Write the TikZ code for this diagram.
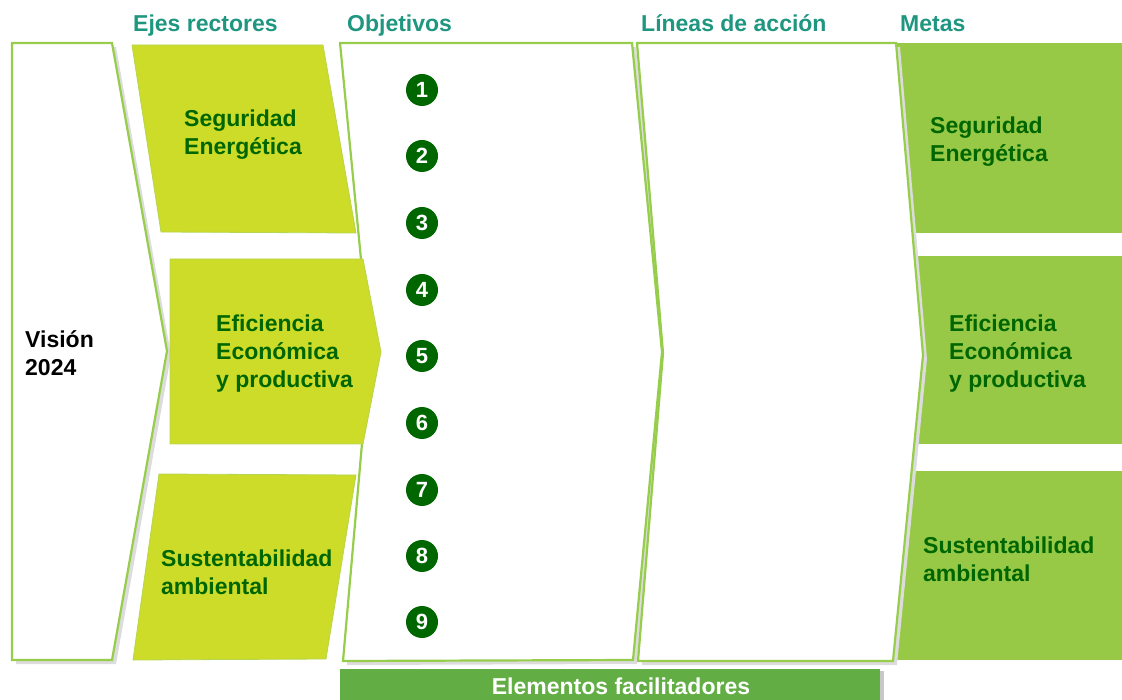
\documentclass[tikz,border=0pt]{standalone}
\usepackage{fontspec}
\setmainfont{Liberation Sans}
\definecolor{hdr}{RGB}{30,150,128}
\definecolor{dgreen}{RGB}{0,102,0}
\definecolor{ejefill}{RGB}{205,219,41}
\definecolor{ejeline}{RGB}{180,214,80}
\definecolor{frame}{RGB}{150,205,75}
\definecolor{metafill}{RGB}{151,201,70}
\definecolor{barfill}{RGB}{98,174,68}
\definecolor{shade}{RGB}{220,220,220}
\definecolor{patch}{RGB}{200,200,200}
\tikzset{
  hdrtext/.style={anchor=base west, text=hdr, font=\fontsize{23}{28}\selectfont\bfseries, inner sep=0pt},
  boxtext/.style={anchor=base west, text=dgreen, align=left, font=\fontsize{23}{28}\selectfont\bfseries, inner sep=0pt},
  panel/.style={fill=white, draw=frame, line width=2.2pt, line join=miter},
  shadowpanel/.style={fill=shade, draw=none},
  eje/.style={fill=ejefill, draw=ejeline, line width=0.8pt},
  meta/.style={fill=metafill, draw=none},
  num/.style={circle, fill=dgreen, text=white, minimum size=32pt, inner sep=0pt, font=\fontsize{22}{22}\selectfont\bfseries},
}
\begin{document}
\begin{tikzpicture}[x=1pt,y=-1pt]
\useasboundingbox (0,0) rectangle (1122,700);

% Metas backgrounds
\fill[meta] (880,43) rectangle (1122,233);
\fill[meta] (880,256) rectangle (1122,444);
\fill[meta] (880,471) rectangle (1122,660);

% shadows
\fill[shadowpanel,shift={(4,4)}] (12,43) -- (112,43) -- (167,351) -- (112,660) -- (12,660) -- cycle;
\fill[shadowpanel,shift={(4,4)}] (340,43) -- (632,43) -- (662,352) -- (633,660) -- (343,661) -- (370,352) -- cycle;
\fill[shadowpanel,shift={(4,4)}] (637,43) -- (896,43) -- (923,355) -- (893,661) -- (638,661) -- (663,353) -- cycle;

% Vision panel
\draw[panel] (12,43) -- (112,43) -- (167,351) -- (112,660) -- (12,660) -- cycle;
% Objetivos panel
\draw[panel] (340,43) -- (632,43) -- (662,352) -- (633,660) -- (343,661) -- (370,352) -- cycle;
% Lineas de accion panel
\draw[panel] (637,43) -- (896,43) -- (923,355) -- (893,661) -- (638,661) -- (663,353) -- cycle;

% Ejes rectores
\draw[eje] (132,45) -- (323,45) -- (356,233) -- (161,232) -- cycle;
\draw[eje] (170,259) -- (363,259) -- (381,352) -- (363,444) -- (170,444) -- cycle;
\draw[eje] (159,474) -- (356,475) -- (326,659) -- (133,660) -- cycle;

% Elementos facilitadores bar
\fill[patch] (880,671) rectangle (884,700);
\fill[barfill] (340,669) rectangle (880,700);
\node[anchor=base, text=white, font=\fontsize{23}{28}\selectfont\bfseries, inner sep=0pt] (bar) at (621,694) {Elementos facilitadores};

% headers
\node[hdrtext] (h1) at (133,31.5) {Ejes rectores};
\node[hdrtext] (h2) at (347,31.5) {Objetivos};
\node[hdrtext] (h3) at (641,31.5) {Líneas de acción};
\node[hdrtext] (h4) at (900,31.5) {Metas};

% texts
\node[boxtext, text=black] (vis) at (25,376) {Visión\\2024};
\node[boxtext] (e1) at (184,155) {Seguridad\\Energética};
\node[boxtext] (e2) at (216,388) {Eficiencia\\Económica\\y productiva};
\node[boxtext] (e3) at (161,594) {Sustentabilidad\\ambiental};
\node[boxtext] (m1) at (930,162) {Seguridad\\Energética};
\node[boxtext] (m2) at (949,388) {Eficiencia\\Económica\\y productiva};
\node[boxtext] (m3) at (923,581) {Sustentabilidad\\ambiental};

% objective numbers
\foreach \i/\yy in {1/90,2/156,3/223,4/290,5/356,6/423,7/490,8/556,9/622}
  \node[num] (n\i) at (422,\yy) {\i};
\end{tikzpicture}
\end{document}
